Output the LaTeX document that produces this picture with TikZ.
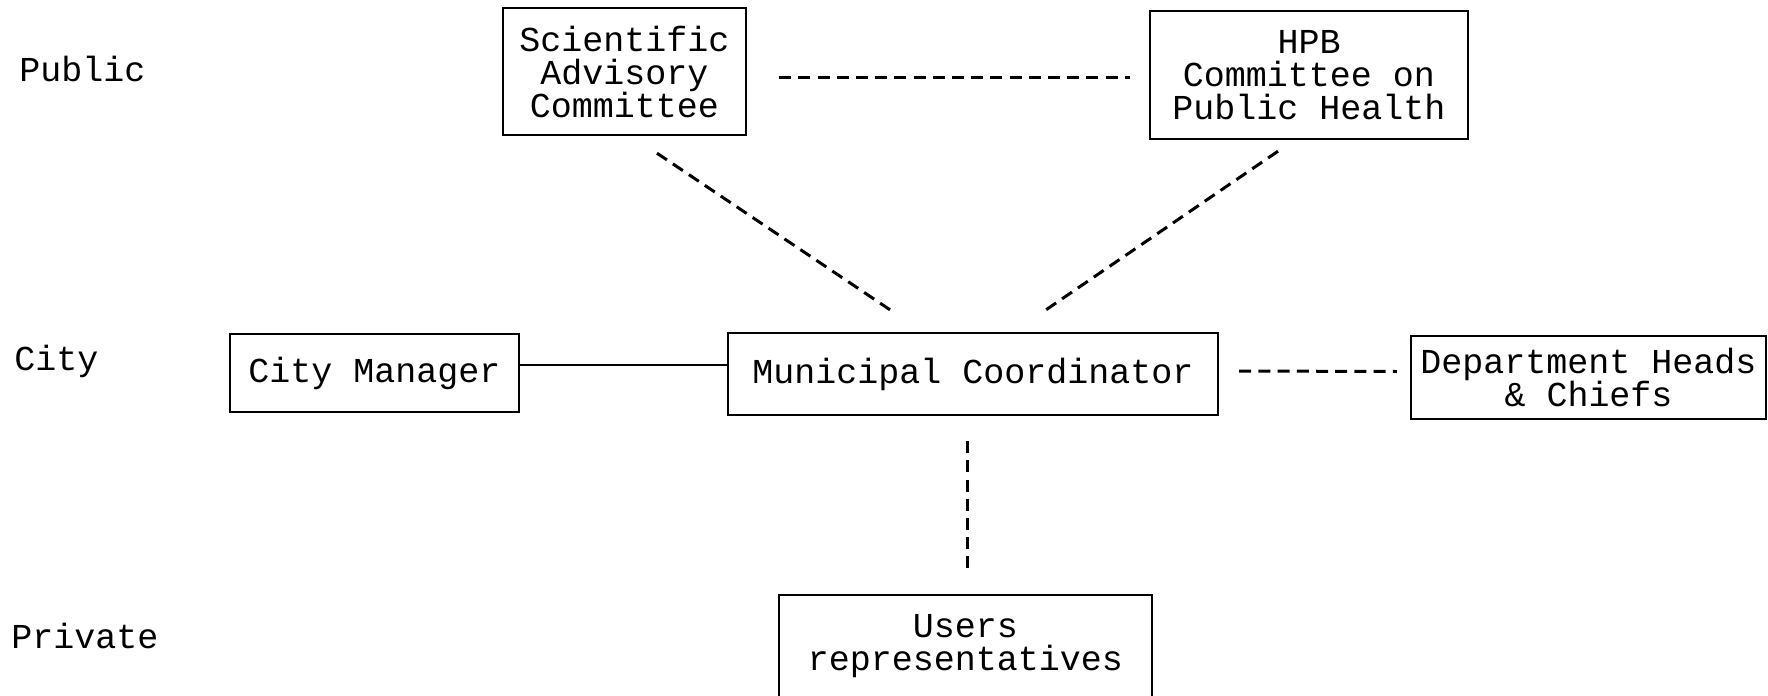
\documentclass[tikz,border=0pt]{standalone}
\usepackage{fontspec}
\setmonofont{Liberation Mono}
\begin{document}
\begin{tikzpicture}[x=0.5pt,y=-0.5pt,
  txt/.style={inner sep=0pt,align=center,font=\ttfamily\fontsize{17.5}{16.5}\selectfont},
  box/.style={txt,draw,line width=1.2pt},
  lab/.style={txt,anchor=west},
  dline/.style={line width=1.5pt,dash pattern=on 6pt off 3.6pt},
  sline/.style={line width=1.2pt}]
\useasboundingbox (0,0) rectangle (1768,696);
\node[lab] (public) at (19,69) {Public};
\node[lab] (city) at (14,361) {City};
\node[lab] (private) at (11,636) {Private};
\node[box,minimum width=121.5pt,minimum height=63.5pt] (sci) at (624.5,71.5) {Scientific\\Advisory\\Committee};
\node[box,minimum width=159pt,minimum height=64pt] (hpb) at (1309,75) {HPB\\Committee on\\Public Health};
\node[box,minimum width=144.5pt,minimum height=39pt] (cm) at (374.5,373) {City Manager};
\node[box,minimum width=245pt,minimum height=41pt] (mc) at (973,374) {Municipal Coordinator};
\node[box,minimum width=177.5pt,minimum height=41.5pt] (dh) at (1588.5,377.5) {Department Heads\\\& Chiefs};
\node[box,anchor=north,minimum width=186.5pt,minimum height=62pt,
  label={[txt,yshift=5.5pt]center:Users\\representatives}] (users) at (965.5,594) {};
\draw[dline] ([shift={(16pt,-2.75pt)}]sci.east) -- ([shift={(-9.5pt,-1pt)}]hpb.west);
\draw[dline] ([shift={(16.25pt,-8.5pt)}]sci.south) -- ([shift={(-41.5pt,11pt)}]mc.north);
\draw[dline] ([shift={(-15.5pt,-5.5pt)}]hpb.south) -- ([shift={(36.5pt,11pt)}]mc.north);
\draw[sline] ([yshift=4pt]cm.east) -- ([yshift=4pt]cm.east -| mc.west);
\draw[dline] ([shift={(10pt,1.5pt)}]mc.east) -- ([shift={(-6.5pt,3pt)}]dh.west);
\draw[dline] ([shift={(-3pt,-12.5pt)}]mc.south) -- ([shift={(0.75pt,12.5pt)}]users.north);
\end{tikzpicture}
\end{document}
